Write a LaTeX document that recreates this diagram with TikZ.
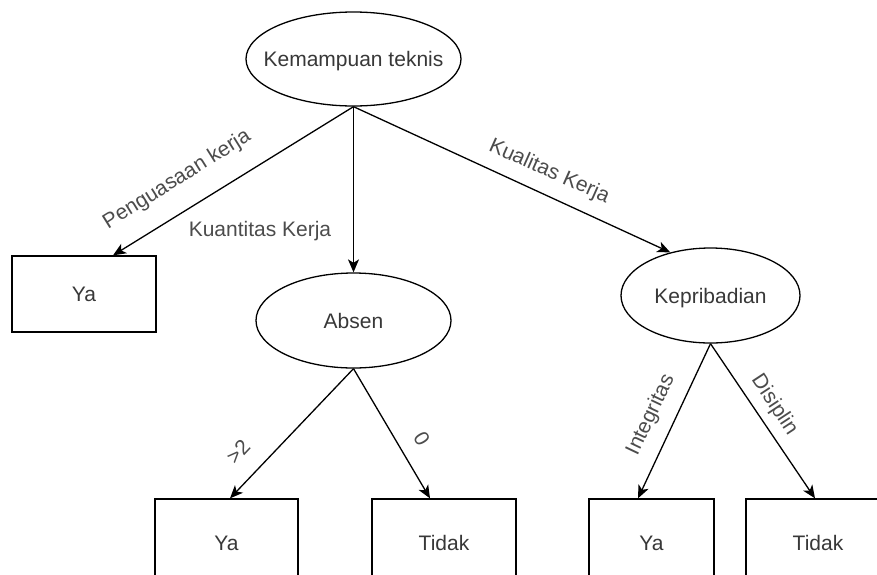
\documentclass[tikz,border=0pt]{standalone}
\usepackage{fontspec}
\setmainfont{Liberation Sans}
\usetikzlibrary{shapes.geometric,arrows.meta}
\definecolor{ink}{HTML}{383838}
\begin{document}
\begin{tikzpicture}[x=1pt,y=-1pt,
  every node/.style={font=\fontsize{21pt}{25pt}\selectfont, text=ink,
    inner sep=0pt, text height=15pt, text depth=0pt},
  decision/.style={ellipse, draw=black, line width=1.3pt},
  leaf/.style={rectangle, draw=black, line width=1.3pt},
  branch/.style={draw=black, line width=1.3pt,
    -{Stealth[length=13pt,width=11pt,inset=3.5pt]}},
  lbl/.style={text=ink!90}]
\useasboundingbox (0,0) rectangle (877,574);
\fill[white] (0,0) rectangle (877,574);
\clip (0,0) rectangle (877,574);

% decision nodes
\node[decision, minimum width=215pt, minimum height=94pt] (root) at (353.5,59) {\makebox[0pt]{Kemampuan teknis}};
\node[decision, minimum width=195pt, minimum height=95pt] (absen) at (353.5,320.5) {\makebox[0pt]{Absen}};
\node[decision, minimum width=179pt, minimum height=95pt] (kep) at (710.5,295.5) {\makebox[0pt]{Kepribadian}};

% leaves
\node[leaf, minimum width=144pt, minimum height=76pt] (ya1) at (84,294) {Ya};
\node[leaf, minimum width=143pt, minimum height=88pt] (ya2) at (226.5,543) {Ya};
\node[leaf, minimum width=144pt, minimum height=88pt] (td1) at (444,543) {Tidak};
\node[leaf, minimum width=125pt, minimum height=88pt] (ya3) at (651.5,543) {Ya};
\node[leaf, minimum width=144pt, minimum height=88pt] (td2) at (818,543) {Tidak};

% branches
\draw[branch] (root.south) -- ([xshift=29pt]ya1.north);
\draw[branch] (root.south) -- (absen.north);
\draw[branch] (root.south) -- (kep.133);
\draw[branch] (absen.south) -- ([xshift=3.5pt]ya2.north);
\draw[branch] (absen.south) -- ([xshift=-14pt]td1.north);
\draw[branch] (kep.south) -- ([xshift=-13.5pt]ya3.north);
\draw[branch] (kep.south) -- ([xshift=-3pt]td2.north);

% branch labels
\node[lbl, rotate=32] (lpk) at (176,178) {Penguasaan kerja};
\node[lbl] (lqk) at (260,229) {Kuantitas Kerja};
\node[lbl, rotate=-24] (lkk) at (550,170) {Kualitas Kerja};
\node[lbl, rotate=47] (lgt) at (238,452) {>2};
\node[lbl, rotate=-59] (lz) at (422,439) {0};
\node[lbl, rotate=64.6] (lin) at (649,414) {Integritas};
\node[lbl, rotate=-56.6] (ldi) at (776,404) {Disiplin};
\end{tikzpicture}
\end{document}
